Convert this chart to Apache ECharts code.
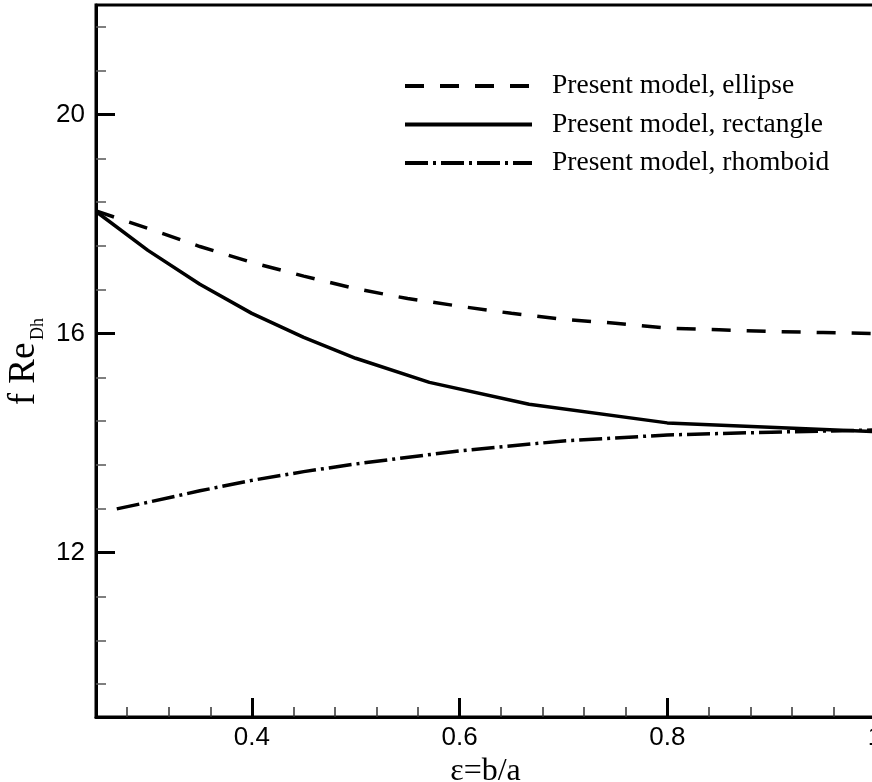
<!DOCTYPE html>
<html><head><meta charset="utf-8">
<script src="https://cdn.jsdelivr.net/npm/echarts@6/dist/echarts.min.js"></script>
<style>html,body{margin:0;padding:0;background:#fff}#c{width:872px;height:782px}</style>
</head><body><div id="c"></div>
<script>
// ---- data ----
const seriesNames = ['Present model, ellipse', 'Present model, rectangle', 'Present model, rhomboid'];

const epsEllipse = [0.25, 0.30, 0.35, 0.40, 0.45, 0.50, 0.55, 0.60, 0.65, 0.70, 0.75, 0.80, 0.85, 0.90, 0.95, 1.00];
const fReEllipse = [18.24, 17.92, 17.59, 17.30, 17.05, 16.82, 16.64, 16.50, 16.37, 16.26, 16.19, 16.10, 16.07, 16.04, 16.02, 16.00];

const epsRectangle = [0.25, 0.30, 0.35, 0.40, 0.45, 0.50, 0.571, 0.667, 0.80, 1.00];
const fReRectangle = [18.23, 17.52, 16.90, 16.37, 15.93, 15.55, 15.11, 14.71, 14.37, 14.21];

const epsRhomboid = [0.27, 0.30, 0.35, 0.40, 0.45, 0.50, 0.60, 0.70, 0.80, 0.90, 1.00];
const fReRhomboid = [12.80, 12.92, 13.13, 13.32, 13.48, 13.62, 13.86, 14.04, 14.15, 14.20, 14.24];

// ---- axis ticks ----
const xMajorTicks = [0.4, 0.6, 0.8, 1.0];
const xMinorTicks = [0.28, 0.32, 0.36, 0.44, 0.48, 0.52, 0.56, 0.64, 0.68, 0.72, 0.76, 0.84, 0.88, 0.92, 0.96];
const yMajorTicks = [12, 16, 20];
const yMinorTicks = [9.6, 10.4, 11.2, 12.8, 13.6, 14.4, 15.2, 16.8, 17.6, 18.4, 19.2, 20.8, 21.6];

const xMin = 0.25, xMax = 1.0, yMin = 9, yMax = 22;

function pairs(xs, ys) { return xs.map((x, i) => [x, ys[i]]); }

const chart = echarts.init(document.getElementById('c'), null, {renderer: 'canvas'});

const labelFont = {fontFamily: 'Liberation Sans, Arial, sans-serif', fontSize: 26, color: '#000'};
const serif = 'Liberation Serif, Times New Roman, serif';

const option = {
  backgroundColor: '#fff',
  animation: false,
  grid: {left: 96, top: 5, width: 779, height: 712, show: true, borderColor: '#000', borderWidth: 3,
    containLabel: false, outerBoundsMode: 'none'},
  legend: {
    orient: 'vertical', left: 403, top: 72, padding: 0,
    itemWidth: 127, itemHeight: 25, itemGap: 10.5,
    itemStyle: {opacity: 0},
    lineStyle: {width: 4},
    textStyle: {fontFamily: serif, fontSize: 27.5, color: '#000', padding: [0, 0, 0, 15]},
    data: seriesNames
  },
  xAxis: [
    {
      type: 'value', min: xMin, max: xMax, position: 'bottom',
      axisLine: {onZero: false, lineStyle: {color: '#000', width: 3}},
      axisTick: {inside: true, length: 19, customValues: xMajorTicks, lineStyle: {color: '#000', width: 3}},
      axisLabel: Object.assign({customValues: xMajorTicks, margin: 8, formatter: v => String(+v.toFixed(2))}, labelFont),
      splitLine: {show: false},
      name: 'ε=b/a', nameLocation: 'middle', nameGap: 35,
      nameTextStyle: {fontFamily: serif, fontSize: 32, color: '#000'}
    },
    {
      type: 'value', min: xMin, max: xMax, position: 'bottom',
      axisLine: {show: false, onZero: false},
      axisTick: {inside: true, length: 10, customValues: xMinorTicks, lineStyle: {color: '#333', width: 1.5}},
      axisLabel: {show: false},
      splitLine: {show: false}
    }
  ],
  yAxis: [
    {
      type: 'value', min: yMin, max: yMax, position: 'left',
      axisLine: {onZero: false, lineStyle: {color: '#000', width: 3}},
      axisTick: {inside: true, length: 19, customValues: yMajorTicks, lineStyle: {color: '#000', width: 3}},
      axisLabel: Object.assign({customValues: yMajorTicks, margin: 11}, labelFont),
      splitLine: {show: false}
    },
    {
      type: 'value', min: yMin, max: yMax, position: 'left',
      axisLine: {show: false, onZero: false},
      axisTick: {inside: true, length: 10, customValues: yMinorTicks, lineStyle: {color: '#555', width: 1.5}},
      axisLabel: {show: false},
      splitLine: {show: false}
    }
  ],
  graphic: [
    {type: 'text', x: 24, y: 374, rotation: Math.PI / 2,
      style: {text: 'f Re', fontFamily: serif, fontSize: 37, fill: '#000', align: 'center', verticalAlign: 'middle'}},
    {type: 'text', x: 38, y: 329, rotation: Math.PI / 2,
      style: {text: 'Dh', fontFamily: serif, fontSize: 18, fill: '#000', align: 'center', verticalAlign: 'middle'}}
  ],
  series: [
    {name: seriesNames[0], type: 'line', data: pairs(epsEllipse, fReEllipse), symbol: 'none',
      lineStyle: {color: '#000', width: 3.5, type: [19, 16], cap: 'butt'}, itemStyle: {color: '#000'}},
    {name: seriesNames[1], type: 'line', data: pairs(epsRectangle, fReRectangle), symbol: 'none',
      lineStyle: {color: '#000', width: 3.5, type: 'solid'}, itemStyle: {color: '#000'}},
    {name: seriesNames[2], type: 'line', data: pairs(epsRhomboid, fReRhomboid), symbol: 'none',
      lineStyle: {color: '#000', width: 3.5, type: [23, 5, 3, 5], cap: 'butt'}, itemStyle: {color: '#000'}}
  ]
};
chart.setOption(option);
</script>
</body></html>
